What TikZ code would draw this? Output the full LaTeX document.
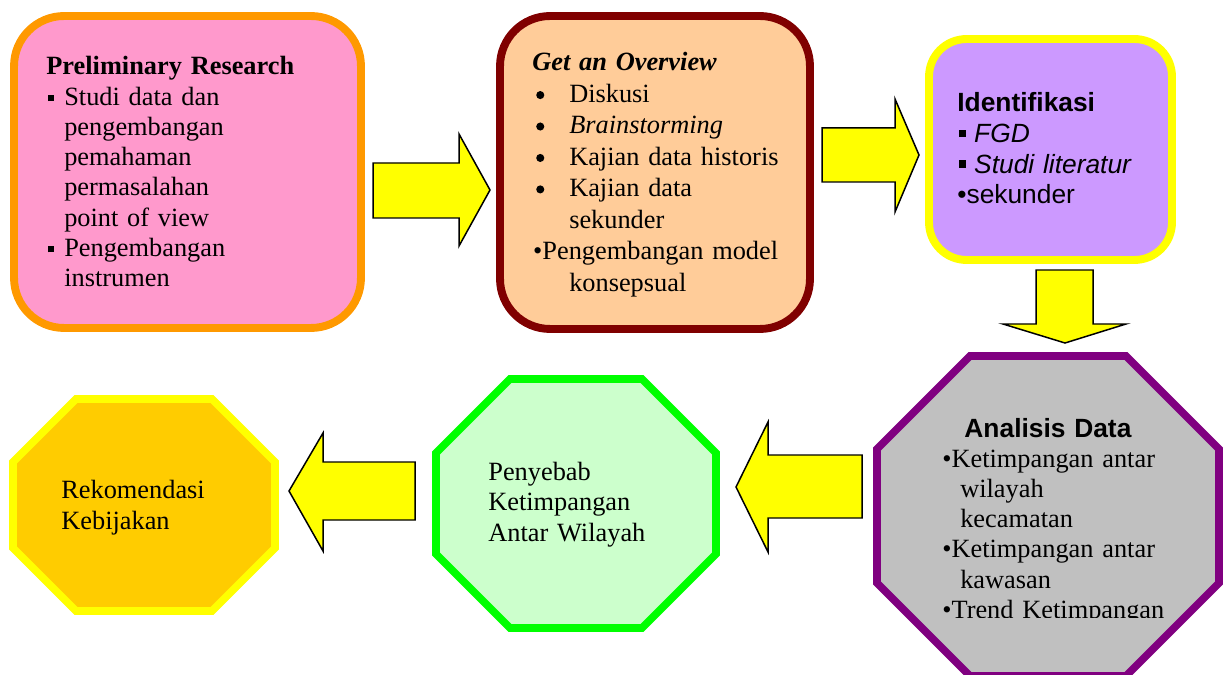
\documentclass[tikz,border=0pt]{standalone}
\usepackage{fontspec}
\setmainfont{Liberation Serif}
\setsansfont{Liberation Sans}
\usetikzlibrary{calc}
\definecolor{pinkfill}{HTML}{FF99CC}
\definecolor{orangeline}{HTML}{FF9900}
\definecolor{peachfill}{HTML}{FFCC99}
\definecolor{maroonline}{HTML}{800000}
\definecolor{lilacfill}{HTML}{CC99FF}
\definecolor{yellowline}{HTML}{FFFF00}
\definecolor{grayfill}{HTML}{C0C0C0}
\definecolor{purpleline}{HTML}{800080}
\definecolor{mintfill}{HTML}{CCFFCC}
\definecolor{greenline}{HTML}{00FF00}
\definecolor{goldfill}{HTML}{FFCC00}
% bullets and hanging gaps
\newcommand\sqbul[3]{\makebox[#1][l]{\hspace{0.8pt}\raisebox{#2}{\rule{#3}{#3}}}}
\newcommand\rdbul{\makebox[21pt][l]{\hspace{2.2pt}%
  \tikz[baseline=0pt, x=1pt, y=1pt]\fill (2.3,4.2) circle (2.3pt);}}
\newcommand\gap[1]{\hspace*{#1}}
\tikzset{
  roundbox/.style={
    draw, line width=4.5pt,
    rounded corners=1cm, inner sep=0pt
  },
  octbox/.style={
    line width=4.3pt, line join=miter
  },
  fatarrow/.style={
    fill=yellowline, draw=black,
    line width=0.85pt, line join=miter
  },
  boxtext/.style={
    anchor=base west, inner sep=0pt,
    align=left, text width=7cm
  }
}
\begin{document}
\begin{tikzpicture}[x=0.02cm, y=-0.02cm]
  \useasboundingbox (0,0) rectangle (1230,675);

  % rounded boxes, top row
  \node [roundbox, draw=orangeline, fill=pinkfill,
    minimum width=6.94cm, minimum height=6.24cm] (prelim) at (187.5,172) {};
  \node [roundbox, draw=maroonline, fill=peachfill,
    minimum width=6.2cm, minimum height=6.26cm] (overview) at (655,172.5) {};
  \node [roundbox, draw=yellowline, fill=lilacfill, rounded corners=0.75cm,
    minimum width=4.86cm, minimum height=4.42cm] (identifikasi) at (1050.5,149.5) {};

  % octagons, bottom row
  \draw [octbox, draw=purpleline, fill=grayfill]
    (970,356) -- (1126,356) -- (1219,449) -- (1219,583)
    -- (1126,676) -- (970,676) -- (877,583) -- (877,449) -- cycle;
  \draw [octbox, draw=greenline, fill=mintfill]
    (510,379) -- (642,379) -- (716,453) -- (716,554)
    -- (642,628) -- (510,628) -- (436,554) -- (436,453) -- cycle;
  \draw [octbox, draw=yellowline, fill=goldfill]
    (76,399) -- (212,399) -- (275,462) -- (275,548)
    -- (212,611) -- (76,611) -- (13,548) -- (13,462) -- cycle;

  % texts
  \node [boxtext, font=\fontsize{15}{17.2}\selectfont] (prelimtext) at (46,75) {%
    \textbf{Preliminary Research}\\
    \sqbul{10.2pt}{2.3pt}{3.5pt}Studi data dan\\
    \gap{10.2pt}pengembangan\\
    \gap{10.2pt}pemahaman\\
    \gap{10.2pt}permasalahan\\
    \gap{10.2pt}point of view\\
    \sqbul{10.2pt}{2.3pt}{3.5pt}Pengembangan\\
    \gap{10.2pt}instrumen};
  \node [boxtext, font=\fontsize{15}{17.9}\selectfont] (overviewtext) at (532,71) {%
    \textbf{\textit{Get an Overview}}\\
    \rdbul Diskusi\\
    \rdbul\textit{Brainstorming}\\
    \rdbul Kajian data historis\\
    \rdbul Kajian data\\
    \gap{21pt}sekunder\\
    \gap{0.5pt}\textbullet Pengembangan model\\
    \gap{21pt}konsepsual};
  \node [boxtext, font=\sffamily\fontsize{15}{17.4}\selectfont] (identtext) at (957,112) {%
    \textbf{Identifikasi}\\
    \sqbul{9.6pt}{3.2pt}{4pt}\textit{FGD}\\
    \sqbul{9.6pt}{3.2pt}{4pt}\textit{Studi literatur}\\
    \textbullet sekunder};
  \begin{scope}
    \clip (880,360) rectangle (1215,617);
    \node [boxtext, font=\fontsize{15}{17.2}\selectfont] (analisistext) at (942,437) {%
      \makebox[120.2pt][c]{\sffamily\bfseries Analisis Data}\\
      \textbullet Ketimpangan antar\\
      \gap{10.2pt}wilayah\\
      \gap{10.2pt}kecamatan\\
      \textbullet Ketimpangan antar\\
      \gap{10.2pt}kawasan\\
      \textbullet Trend Ketimpangan};
  \end{scope}
  \node [boxtext, font=\fontsize{15}{17.6}\selectfont] (penyebabtext) at (488,480) {%
    Penyebab\\Ketimpangan\\Antar Wilayah};
  \node [boxtext, font=\fontsize{15}{18}\selectfont] (rekomtext) at (61,498) {%
    Rekomendasi\\Kebijakan};

  % block arrows
  \draw [fatarrow] (373,163) -- (459,163) -- (459,134) -- (490,190)
    -- (459,246) -- (459,218) -- (373,218) -- cycle;
  \draw [fatarrow] (822,128) -- (895,128) -- (895,99) -- (919,155)
    -- (895,212) -- (895,182) -- (822,182) -- cycle;
  \draw [fatarrow] (1036,270) -- (1093,270) -- (1093,324) -- (1126,324)
    -- (1065,343) -- (1003,324) -- (1036,324) -- cycle;
  \draw [fatarrow] (862,455) -- (768,455) -- (768,422) -- (736,487)
    -- (768,552) -- (768,518) -- (862,518) -- cycle;
  \draw [fatarrow] (415,462) -- (323,462) -- (323,433) -- (289,491)
    -- (323,551) -- (323,520) -- (415,520) -- cycle;
\end{tikzpicture}
\end{document}
